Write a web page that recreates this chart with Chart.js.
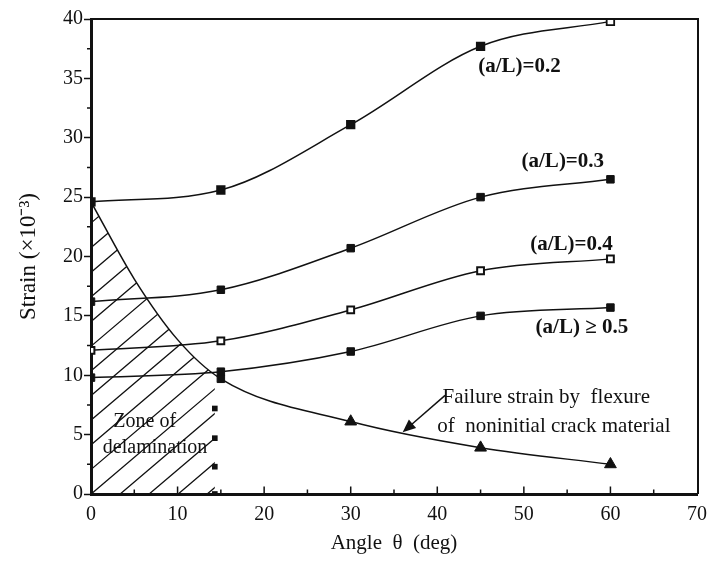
<!DOCTYPE html>
<html><head><meta charset="utf-8">
<script src="https://cdn.jsdelivr.net/npm/chart.js@4.4.1/dist/chart.umd.min.js"></script>
<style>html,body{margin:0;padding:0;background:#fff;} canvas{display:block;}</style>
</head><body>
<canvas id="c" width="710" height="563"></canvas>
<script>
// ---- data ----
const angles = [0, 15, 30, 45, 60];
const strainAL02 = [24.6, 25.6, 31.1, 37.7, 39.8];
const strainAL03 = [16.2, 17.2, 20.7, 25.0, 26.5];
const strainAL04 = [12.1, 12.9, 15.5, 18.8, 19.8];
const strainAL05 = [9.8, 10.3, 12.0, 15.0, 15.7];
const failureAngles = [0, 5, 10, 15, 30, 45, 60];
const failureStrain = [24.6, 18.1, 13.0, 9.7, 6.1, 3.9, 2.5];
const zoneEdgeAngle = 14.3;
const zoneEdgeStrain = [7.2, 4.7, 2.3, 0];
const xTickValues = [0, 10, 20, 30, 40, 50, 60, 70];
const yTickValues = [0, 5, 10, 15, 20, 25, 30, 35, 40];
const curveLabels = ['(a/L)=0.2', '(a/L)=0.3', '(a/L)=0.4', '(a/L) \u2265 0.5'];

// ---- annotation placement (data units) ----
const SERIF = '"Liberation Serif", "Times New Roman", serif';
const notes = [
  {text: curveLabels[0], x: 49.5, y: 36.0, bold: true, size: 21, align: 'center'},
  {text: curveLabels[1], x: 54.5, y: 28.0, bold: true, size: 21, align: 'center'},
  {text: curveLabels[2], x: 55.5, y: 21.0, bold: true, size: 21, align: 'center'},
  {text: curveLabels[3], x: 56.7, y: 14.0, bold: true, size: 21, align: 'center'},
  {text: 'Failure strain by  flexure', x: 40.6, y: 8.1, size: 21, align: 'left'},
  {text: 'of  noninitial crack material', x: 40.0, y: 5.7, size: 21, align: 'left'},
  {text: 'Zone of', x: 6.2, y: 6.1, size: 20, align: 'center'},
  {text: 'delamination', x: 7.4, y: 3.9, size: 20, align: 'center'}
];
const arrowNote = {from: [40.9, 8.3], to: [36.0, 5.2]};

const pts = (xs, ys) => xs.map((x, i) => ({x: x, y: ys[i]}));

const baseLine = {
  borderColor: '#111', borderWidth: 1.5, cubicInterpolationMode: 'monotone',
  pointStyle: 'rect', pointRadius: 5.3, pointBackgroundColor: '#111',
  pointBorderColor: '#111', pointBorderWidth: 1, fill: false
};

const decor = {
  id: 'decor',
  beforeDatasetsDraw(chart) {
    const {ctx, chartArea: a} = chart;
    const xs = chart.scales.x, ys = chart.scales.y;
    const line = chart.getDatasetMeta(4).dataset;
    if (line.updateControlPoints) line.updateControlPoints(a, 'x');
    const p = line.points;
    const y0 = ys.getPixelForValue(0);
    const xEdge = xs.getPixelForValue(zoneEdgeAngle);
    ctx.save();
    ctx.beginPath();
    ctx.rect(a.left, a.top, xEdge - a.left, y0 - a.top);
    ctx.clip();
    ctx.beginPath();
    line.path(ctx);
    ctx.lineTo(p[p.length - 1].x, y0);
    ctx.lineTo(p[0].x, y0);
    ctx.closePath();
    ctx.clip();
    ctx.strokeStyle = '#111';
    ctx.lineWidth = 1.3;
    const slope = 0.85, step = 29, h = y0 - a.top;
    ctx.beginPath();
    for (let x = a.left - h / slope + 8; x < xEdge; x += step) {
      ctx.moveTo(x, y0);
      ctx.lineTo(x + h / slope, a.top);
    }
    ctx.stroke();
    ctx.restore();
  },
  afterDraw(chart) {
    const {ctx, chartArea: a} = chart;
    const xs = chart.scales.x, ys = chart.scales.y;
    ctx.save();
    // frame top/right
    ctx.strokeStyle = '#111';
    ctx.lineWidth = 2;
    ctx.beginPath();
    ctx.moveTo(a.left, a.top);
    ctx.lineTo(a.right + 1, a.top);
    ctx.lineTo(a.right + 1, a.bottom);
    ctx.stroke();
    // inward x ticks (major + minor)
    ctx.lineWidth = 1.5;
    ctx.beginPath();
    for (let v = 5; v < 70; v += 5) {
      const px = xs.getPixelForValue(v);
      const len = v % 10 === 0 ? 6 : 3;
      ctx.moveTo(px, a.bottom);
      ctx.lineTo(px, a.bottom - len - 1.5);
    }
    // minor y ticks outward
    for (let v = 2.5; v < 40; v += 5) {
      const py = ys.getPixelForValue(v);
      ctx.moveTo(a.left - 4, py);
      ctx.lineTo(a.left, py);
    }
    ctx.stroke();
    // annotations
    ctx.fillStyle = '#111';
    ctx.textBaseline = 'middle';
    notes.forEach(n => {
      ctx.font = (n.bold ? 'bold ' : '') + n.size + 'px ' + SERIF;
      ctx.textAlign = n.align;
      ctx.fillText(n.text, xs.getPixelForValue(n.x), ys.getPixelForValue(n.y));
    });
    // arrow
    const fx = xs.getPixelForValue(arrowNote.from[0]), fy = ys.getPixelForValue(arrowNote.from[1]);
    const tx = xs.getPixelForValue(arrowNote.to[0]), ty = ys.getPixelForValue(arrowNote.to[1]);
    const ang = Math.atan2(ty - fy, tx - fx);
    ctx.lineWidth = 1.5;
    ctx.beginPath();
    ctx.moveTo(fx, fy);
    ctx.lineTo(tx - 8 * Math.cos(ang), ty - 8 * Math.sin(ang));
    ctx.stroke();
    ctx.beginPath();
    ctx.moveTo(tx, ty);
    ctx.lineTo(tx - 13 * Math.cos(ang) + 5.5 * Math.sin(ang), ty - 13 * Math.sin(ang) - 5.5 * Math.cos(ang));
    ctx.lineTo(tx - 13 * Math.cos(ang) - 5.5 * Math.sin(ang), ty - 13 * Math.sin(ang) + 5.5 * Math.cos(ang));
    ctx.closePath();
    ctx.fill();
    ctx.restore();
  }
};

new Chart(document.getElementById('c'), {
  type: 'line',
  data: {
    datasets: [
      Object.assign({}, baseLine, {label: curveLabels[0], data: pts(angles, strainAL02),
        pointBackgroundColor: ['#111', '#111', '#111', '#111', '#fff'], pointBorderWidth: 1.8}),
      Object.assign({}, baseLine, {label: curveLabels[1], data: pts(angles, strainAL03)}),
      Object.assign({}, baseLine, {label: curveLabels[2], data: pts(angles, strainAL04),
        pointBackgroundColor: '#fff', pointBorderWidth: 2, pointRadius: 4.8}),
      Object.assign({}, baseLine, {label: curveLabels[3], data: pts(angles, strainAL05)}),
      Object.assign({}, baseLine, {label: 'Failure strain by flexure', data: pts(failureAngles, failureStrain),
        pointStyle: ['triangle', 'triangle', 'triangle', 'rect', 'triangle', 'triangle', 'triangle'],
        pointRadius: [4, 0, 0, 5.3, 6.8, 6.8, 6.8]}),
      {label: 'Zone edge', data: zoneEdgeStrain.map(v => ({x: zoneEdgeAngle, y: v})), showLine: false,
        pointStyle: 'rect', pointRadius: 4, pointBackgroundColor: '#111', pointBorderColor: '#111', borderWidth: 0}
    ]
  },
  options: {
    responsive: false,
    devicePixelRatio: 1,
    animation: false,
    layout: {padding: {top: 19, right: 13, left: 0, bottom: 0}},
    plugins: {legend: {display: false}, tooltip: {enabled: false}},
    scales: {
      x: {
        type: 'linear', min: 0, max: 70,
        afterBuildTicks: s => { s.ticks = xTickValues.map(v => ({value: v})); },
        afterFit: s => { s.height = 69; s.paddingLeft = 0; s.paddingRight = 0; },
        grid: {display: true, drawOnChartArea: false, drawTicks: false},
        border: {display: true, color: '#111', width: 3},
        ticks: {color: '#111', font: {family: SERIF, size: 20}, padding: 9, maxRotation: 0, autoSkip: false},
        title: {display: true, text: 'Angle  \u03B8  (deg)', color: '#111', font: {family: SERIF, size: 21}, padding: {top: 0, bottom: 7}}
      },
      y: {
        type: 'linear', min: 0, max: 40,
        afterBuildTicks: s => { s.ticks = yTickValues.map(v => ({value: v})); },
        afterFit: s => { s.width = 91; s.paddingTop = 0; s.paddingBottom = 0; },
        grid: {display: true, drawOnChartArea: false, drawTicks: true, tickLength: 7, tickWidth: 1.5, tickColor: '#111'},
        border: {display: true, color: '#111', width: 3},
        ticks: {color: '#111', font: {family: SERIF, size: 20}, padding: 1},
        title: {display: true, text: 'Strain (\u00D710\u207B\u00B3)', color: '#111', font: {family: SERIF, size: 23}, padding: {top: 15, bottom: 0}}
      }
    }
  },
  plugins: [decor]
});
</script>
</body></html>
